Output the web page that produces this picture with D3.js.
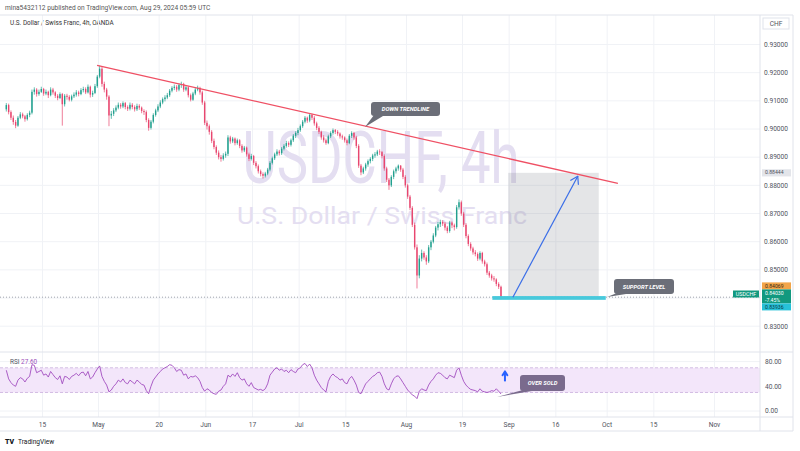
<!DOCTYPE html>
<html>
<head>
<meta charset="utf-8">
<script src="https://cdn.jsdelivr.net/npm/d3@7"></script>
<style>
  body { margin: 0; background: #fff; }
  svg text { font-family: Roboto, "Noto Sans", sans-serif; }
</style>
</head>
<body>
<div id="chart"></div>
<script>
// ---------- data ----------
const firstDate = "2024-04-03";
const candlesPerDay = 2;
const firstOpen = 0.9070;

const closes = [
  0.9085,0.9060,0.9040,0.9025,0.9012,0.9040,0.9052,0.9045,0.9035,0.9050,0.9058,0.9132,
  0.9140,0.9124,0.9132,0.9142,0.9126,0.9132,0.9120,0.9140,0.9130,0.9118,0.9110,0.9124,
  0.9088,0.9118,0.9114,0.9104,0.9116,0.9122,0.9130,0.9124,0.9138,0.9142,0.9130,0.9150,
  0.9122,0.9128,0.9152,0.9186,0.9214,0.9160,0.9140,0.9115,0.9048,0.9054,0.9066,0.9076,
  0.9086,0.9080,0.9092,0.9078,0.9072,0.9086,0.9078,0.9070,0.9082,0.9076,0.9064,0.9060,
  0.9032,0.9004,0.9026,0.9050,0.9066,0.9080,0.9094,0.9106,0.9112,0.9120,0.9136,0.9146,
  0.9150,0.9140,0.9156,0.9160,0.9140,0.9148,0.9120,0.9104,0.9126,0.9140,0.9146,0.9130,
  0.9094,0.9022,0.9010,0.8990,0.8958,0.8936,0.8916,0.8900,0.8894,0.8906,0.8912,0.8970,
  0.8956,0.8966,0.8950,0.8960,0.8940,0.8924,0.8934,0.8910,0.8894,0.8904,0.8880,0.8868,
  0.8850,0.8840,0.8834,0.8842,0.8856,0.8880,0.8896,0.8910,0.8920,0.8914,0.8930,0.8940,
  0.8950,0.8944,0.8960,0.8976,0.8986,0.8996,0.9010,0.9026,0.9040,0.9030,0.9050,0.9040,
  0.9020,0.9004,0.8990,0.8970,0.8960,0.8950,0.8974,0.8986,0.8996,0.8990,0.8984,0.8974,
  0.8970,0.8960,0.8950,0.8976,0.8986,0.8970,0.8940,0.8870,0.8846,0.8860,0.8874,0.8886,
  0.8894,0.8906,0.8910,0.8920,0.8918,0.8904,0.8860,0.8820,0.8800,0.8830,0.8850,0.8860,
  0.8870,0.8856,0.8830,0.8800,0.8760,0.8720,0.8660,0.8580,0.8480,0.8540,0.8560,0.8544,
  0.8530,0.8580,0.8600,0.8622,0.8650,0.8662,0.8670,0.8664,0.8650,0.8638,0.8668,0.8658,
  0.8652,0.8722,0.8740,0.8700,0.8660,0.8620,0.8592,0.8576,0.8562,0.8556,0.8540,0.8560,
  0.8530,0.8520,0.8490,0.8480,0.8470,0.8466,0.8450,0.8440,0.8403
];

const highs = [
  0.9092,0.9090,0.9066,0.9048,0.9032,0.9046,0.9060,0.9058,0.9050,0.9056,0.9065,0.9140,
  0.9148,0.9145,0.9140,0.9150,0.9146,0.9140,0.9136,0.9148,0.9146,0.9134,0.9124,0.9130,
  0.9128,0.9124,0.9125,0.9120,0.9122,0.9130,0.9138,0.9136,0.9145,0.9150,0.9148,0.9158,
  0.9154,0.9136,0.9160,0.9192,0.9225,0.9220,0.9168,0.9146,0.9120,0.9064,0.9074,0.9084,
  0.9094,0.9092,0.9098,0.9096,0.9084,0.9094,0.9092,0.9084,0.9090,0.9088,0.9080,0.9070,
  0.9066,0.9038,0.9032,0.9056,0.9072,0.9088,0.9102,0.9112,0.9120,0.9128,0.9142,0.9152,
  0.9158,0.9156,0.9162,0.9168,0.9164,0.9154,0.9152,0.9126,0.9132,0.9148,0.9154,0.9150,
  0.9136,0.9100,0.9030,0.9016,0.8996,0.8966,0.8942,0.8924,0.8908,0.8914,0.8920,0.8978,
  0.8976,0.8972,0.8970,0.8966,0.8964,0.8946,0.8940,0.8938,0.8916,0.8912,0.8908,0.8886,
  0.8874,0.8856,0.8846,0.8848,0.8862,0.8886,0.8902,0.8916,0.8928,0.8926,0.8936,0.8946,
  0.8958,0.8956,0.8966,0.8982,0.8992,0.9004,0.9016,0.9032,0.9046,0.9044,0.9056,0.9054,
  0.9046,0.9026,0.9010,0.8994,0.8978,0.8966,0.8980,0.8992,0.9002,0.9000,0.8996,0.8988,
  0.8980,0.8974,0.8966,0.8982,0.8992,0.8990,0.8976,0.8946,0.8876,0.8866,0.8880,0.8892,
  0.8900,0.8912,0.8918,0.8926,0.8928,0.8922,0.8910,0.8866,0.8826,0.8836,0.8856,0.8866,
  0.8874,0.8872,0.8862,0.8836,0.8806,0.8766,0.8726,0.8668,0.8590,0.8552,0.8572,0.8566,
  0.8552,0.8588,0.8606,0.8630,0.8656,0.8670,0.8678,0.8676,0.8670,0.8656,0.8674,0.8672,
  0.8664,0.8730,0.8750,0.8746,0.8706,0.8666,0.8626,0.8598,0.8582,0.8570,0.8562,0.8566,
  0.8564,0.8536,0.8526,0.8496,0.8486,0.8478,0.8470,0.8456,0.8444
];

const lows = [
  0.9062,0.9052,0.9032,0.9015,0.9003,0.9008,0.9035,0.9038,0.9026,0.9030,0.9042,0.9052,
  0.9122,0.9115,0.9118,0.9128,0.9118,0.9120,0.9110,0.9116,0.9122,0.9110,0.9102,0.9106,
  0.9012,0.9080,0.9104,0.9098,0.9098,0.9110,0.9115,0.9116,0.9120,0.9130,0.9124,0.9126,
  0.9112,0.9114,0.9124,0.9146,0.9180,0.9150,0.9130,0.9104,0.9010,0.9036,0.9046,0.9060,
  0.9070,0.9072,0.9074,0.9070,0.9064,0.9066,0.9070,0.9062,0.9064,0.9068,0.9056,0.9050,
  0.9024,0.8994,0.8998,0.9020,0.9044,0.9060,0.9074,0.9088,0.9098,0.9106,0.9114,0.9130,
  0.9138,0.9132,0.9134,0.9146,0.9132,0.9134,0.9112,0.9098,0.9100,0.9120,0.9134,0.9122,
  0.9086,0.9014,0.8998,0.8980,0.8950,0.8928,0.8908,0.8892,0.8884,0.8888,0.8898,0.8904,
  0.8948,0.8950,0.8942,0.8944,0.8932,0.8916,0.8918,0.8902,0.8886,0.8888,0.8872,0.8860,
  0.8842,0.8832,0.8824,0.8828,0.8836,0.8850,0.8874,0.8890,0.8904,0.8906,0.8908,0.8924,
  0.8934,0.8936,0.8938,0.8954,0.8968,0.8978,0.8990,0.9004,0.9020,0.9022,0.9024,0.9032,
  0.9012,0.8996,0.8982,0.8962,0.8952,0.8944,0.8946,0.8968,0.8980,0.8982,0.8976,0.8966,
  0.8962,0.8952,0.8942,0.8946,0.8968,0.8962,0.8932,0.8862,0.8836,0.8840,0.8852,0.8866,
  0.8878,0.8886,0.8898,0.8904,0.8908,0.8896,0.8852,0.8812,0.8784,0.8794,0.8822,0.8842,
  0.8852,0.8848,0.8822,0.8792,0.8752,0.8712,0.8652,0.8572,0.8434,0.8470,0.8530,0.8536,
  0.8518,0.8524,0.8570,0.8594,0.8616,0.8640,0.8652,0.8656,0.8640,0.8630,0.8632,0.8648,
  0.8640,0.8646,0.8714,0.8692,0.8652,0.8612,0.8584,0.8568,0.8554,0.8548,0.8532,0.8534,
  0.8522,0.8512,0.8482,0.8472,0.8462,0.8458,0.8442,0.8432,0.8396
];

const rsiValues = [
  66,52,46,42,40,50,54,52,47,53,56,75,
  74,62,64,66,58,60,55,64,59,54,51,57,
  44,56,55,51,56,58,61,57,62,63,57,64,
  52,55,62,68,73,56,48,42,31,34,40,44,
  50,47,52,46,44,50,47,44,50,47,43,42,
  33,28,40,50,55,60,64,68,70,72,75,74,
  70,64,67,66,58,60,52,56,55,57,54,48,
  38,32,36,34,30,28,27,32,34,40,44,58,
  55,60,56,62,54,50,52,44,40,46,38,36,
  34,35,33,36,44,58,63,68,70,66,68,64,
  66,62,67,64,62,68,70,75,77,72,76,70,
  58,50,44,38,34,31,48,56,60,56,54,50,
  52,46,44,52,56,50,42,30,28,36,44,48,
  52,56,58,62,63,56,44,36,34,44,52,56,
  57,52,46,40,34,30,26,24,20,32,36,34,
  33,42,48,52,58,62,61,58,54,52,58,56,
  54,66,70,58,48,42,38,35,34,33,31,36,
  32,31,30,31,33,32,36,32,27.6
];

const priceTicks = [0.93, 0.92, 0.91, 0.90, 0.89, 0.88, 0.87, 0.86, 0.85, 0.84, 0.83];
const rsiTicks = [80, 40, 0];
const timeTickDates = ["2024-04-15","2024-05-01","2024-05-20","2024-06-03","2024-06-17","2024-07-01",
  "2024-07-15","2024-08-01","2024-08-19","2024-09-02","2024-09-16","2024-10-01","2024-10-15","2024-11-01"];
const timeTickLabels = ["15","May","20","Jun","17","Jul","15","Aug","19","Sep","16","Oct","15","Nov"];

const lastPrice = 0.84030;
const changePct = "-7.45%";
const rsiLast = "27.60";

// drawings: [business-day offset from Apr 15, price]
const trendLine = [[11.7, 0.9226], [123.3, 0.8807]];
const targetBox = {x0: 99.8, x1: 119.2, top: 0.88444, bottom: 0.84030};
const supportBox = {x0: 96.4, x1: 120.7, top: 0.84069, bottom: 0.83936};
const targetArrow = [[100.8, 0.8403], [114.7, 0.8832]];

// ---------- layout ----------
const width = 800, height = 451;
const paneRight = 760, outerRight = 793;
const priceTop = 15, priceBottom = 352, rsiTop = 353, rsiBottom = 417, axisBottom = 431;
const gridColor = "#f0f2f6", borderColor = "#e0e3eb", textColor = "#50535e";
const upColor = "#22a08f", downColor = "#e8466f";

const svg = d3.select("#chart").append("svg")
  .attr("width", width).attr("height", height)
  .attr("viewBox", `0 0 ${width} ${height}`);
svg.append("rect").attr("width", width).attr("height", height).attr("fill", "#fff");

// business-day offset from 2024-04-15
const baseDate = new Date("2024-04-15T00:00:00Z");
function bday(str) {
  const t = new Date(str + "T00:00:00Z");
  const d = new Date(baseDate);
  let n = 0;
  if (t >= baseDate) {
    while (d < t) { const w = d.getUTCDay(); if (w !== 0 && w !== 6) n++; d.setUTCDate(d.getUTCDate() + 1); }
  } else {
    while (d > t) { d.setUTCDate(d.getUTCDate() - 1); const w = d.getUTCDay(); if (w !== 0 && w !== 6) n--; }
  }
  return n;
}

// scales
const xScale = d3.scaleLinear().domain([-9.1, 153.75]).range([0, paneRight]);
const yScale = d3.scaleLinear().domain([0.83, 0.93]).range([326.2, 44.5]);
const yRsi = d3.scaleLinear().domain([0, 80]).range([411, 361.6]);

const startDay = bday(firstDate);
const candles = closes.map((c, i) => ({
  t: startDay + i / candlesPerDay + 0.5 / candlesPerDay,
  o: i === 0 ? firstOpen : closes[i - 1],
  h: highs[i], l: lows[i], c,
  r: rsiValues[i]
}));

// ---------- header ----------
svg.append("text").attr("x", 5).attr("y", 9.5)
  .attr("font-size", 6.6).attr("fill", "#555")
  .text("mina5432112 published on TradingView.com, Aug 29, 2024 05:59 UTC");
svg.append("text").attr("x", 10).attr("y", 24.5)
  .attr("font-size", 6.4).attr("fill", "#333")
  .text("U.S. Dollar / Swiss Franc, 4h, OANDA");

// ---------- grid ----------
const grid = svg.append("g");
timeTickDates.forEach(d => {
  const x = xScale(bday(d));
  grid.append("line").attr("x1", x).attr("x2", x).attr("y1", priceTop).attr("y2", rsiBottom)
    .attr("stroke", gridColor);
});
priceTicks.forEach(p => {
  grid.append("line").attr("x1", 0).attr("x2", paneRight).attr("y1", yScale(p)).attr("y2", yScale(p))
    .attr("stroke", gridColor);
});
rsiTicks.forEach(v => {
  grid.append("line").attr("x1", 0).attr("x2", paneRight).attr("y1", yRsi(v)).attr("y2", yRsi(v))
    .attr("stroke", gridColor);
});

// ---------- watermark ----------
svg.append("text").attr("x", 381).attr("y", 183).attr("text-anchor", "middle")
  .attr("font-size", 72).attr("fill", "#e4def1")
  .attr("textLength", 277).attr("lengthAdjust", "spacingAndGlyphs")
  .text("USDCHF, 4h");
svg.append("text").attr("x", 382).attr("y", 224).attr("text-anchor", "middle")
  .attr("font-size", 24).attr("fill", "#e4def1")
  .attr("textLength", 290).attr("lengthAdjust", "spacingAndGlyphs")
  .text("U.S. Dollar / Swiss Franc");

// ---------- price pane ----------
svg.append("clipPath").attr("id", "priceClip").append("rect")
  .attr("x", 0).attr("y", priceTop).attr("width", paneRight).attr("height", priceBottom - priceTop);
const price = svg.append("g").attr("clip-path", "url(#priceClip)");

// target box (grey)
price.append("rect")
  .attr("x", xScale(targetBox.x0)).attr("width", xScale(targetBox.x1) - xScale(targetBox.x0))
  .attr("y", yScale(targetBox.top)).attr("height", yScale(targetBox.bottom) - yScale(targetBox.top))
  .attr("fill", "#787b86").attr("fill-opacity", 0.2);

// price line
price.append("line").attr("x1", 0).attr("x2", paneRight)
  .attr("y1", yScale(lastPrice)).attr("y2", yScale(lastPrice))
  .attr("stroke", "#9fa3ad").attr("stroke-dasharray", "1,2");

// candles
const bodyW = (xScale(1) - xScale(0)) / candlesPerDay * 0.6;
price.selectAll(".wick").data(candles).join("line")
  .attr("x1", d => xScale(d.t)).attr("x2", d => xScale(d.t))
  .attr("y1", d => yScale(d.h)).attr("y2", d => yScale(d.l))
  .attr("stroke", d => d.c >= d.o ? upColor : downColor).attr("stroke-width", 0.7);
price.selectAll(".body").data(candles).join("rect")
  .attr("x", d => xScale(d.t) - bodyW / 2).attr("width", bodyW)
  .attr("y", d => yScale(Math.max(d.o, d.c)))
  .attr("height", d => Math.max(0.7, Math.abs(yScale(d.o) - yScale(d.c))))
  .attr("fill", d => d.c >= d.o ? upColor : downColor);

// support box (cyan)
price.append("rect")
  .attr("x", xScale(supportBox.x0)).attr("width", xScale(supportBox.x1) - xScale(supportBox.x0))
  .attr("y", yScale(supportBox.top)).attr("height", yScale(supportBox.bottom) - yScale(supportBox.top))
  .attr("fill", "#47c9dc");

// trend line
price.append("line")
  .attr("x1", xScale(trendLine[0][0])).attr("y1", yScale(trendLine[0][1]))
  .attr("x2", xScale(trendLine[1][0])).attr("y2", yScale(trendLine[1][1]))
  .attr("stroke", "#ef5064").attr("stroke-width", 1.3);

// target arrow
function arrow(g, x1, y1, x2, y2, color, w, head) {
  g.append("line").attr("x1", x1).attr("y1", y1).attr("x2", x2).attr("y2", y2)
    .attr("stroke", color).attr("stroke-width", w);
  const a = Math.atan2(y2 - y1, x2 - x1);
  [Math.PI * 0.82, -Math.PI * 0.82].forEach(da => {
    g.append("line").attr("x1", x2).attr("y1", y2)
      .attr("x2", x2 + head * Math.cos(a + da)).attr("y2", y2 + head * Math.sin(a + da))
      .attr("stroke", color).attr("stroke-width", w).attr("stroke-linecap", "round");
  });
}
arrow(price, xScale(targetArrow[0][0]), yScale(targetArrow[0][1]),
  xScale(targetArrow[1][0]), yScale(targetArrow[1][1]), "#3a6ee8", 1.2, 8);

// callouts
function callout(g, x, y, w, h, tipX, tipY, fill, label) {
  g.append("path")
    .attr("d", `M${x + 3},${y + h - 1} L${tipX},${tipY} L${x + 12},${y + h} Z`)
    .attr("fill", fill);
  g.append("rect").attr("x", x).attr("y", y).attr("width", w).attr("height", h)
    .attr("rx", 3).attr("fill", fill);
  g.append("text").attr("x", x + w / 2).attr("y", y + h / 2 + 2)
    .attr("text-anchor", "middle").attr("font-size", 5.8).attr("font-weight", 700)
    .attr("font-style", "italic").attr("fill", "#fff").text(label);
}
callout(svg, 371, 102, 69, 14, 365, 127, "#6b6e78", "DOWN TRENDLINE");
callout(svg, 614, 279, 60, 15, 607, 297, "#6b6e78", "SUPPORT LEVEL");

// ---------- RSI pane ----------
const rsiG = svg.append("g");
rsiG.append("rect").attr("x", 0).attr("width", paneRight)
  .attr("y", yRsi(70)).attr("height", yRsi(30) - yRsi(70))
  .attr("fill", "#f3e6fa");
[70, 30].forEach(v => {
  rsiG.append("line").attr("x1", 0).attr("x2", paneRight).attr("y1", yRsi(v)).attr("y2", yRsi(v))
    .attr("stroke", "#c3a6d8").attr("stroke-dasharray", "3,2").attr("stroke-width", 0.7);
});
const rsiLine = d3.line().x(d => xScale(d.t)).y(d => yRsi(d.r));
rsiG.append("path").attr("d", rsiLine(candles))
  .attr("fill", "none").attr("stroke", "#a24dc0").attr("stroke-width", 0.9);

const rsiLabel = svg.append("text").attr("x", 10).attr("y", 363.5).attr("font-size", 6.4);
rsiLabel.append("tspan").attr("fill", "#50535e").text("RSI ");
rsiLabel.append("tspan").attr("fill", "#9c4fba").text(" " + rsiLast);

// blue up arrow
arrow(svg, xScale(99.1), yRsi(48), xScale(99.1), yRsi(64), "#2962ff", 2, 4.5);
callout(svg, 520, 375, 45, 16, 497, 397, "#7a6b8d", "OVER SOLD");

// ---------- borders ----------
const borders = svg.append("g").attr("stroke", borderColor).attr("fill", "none");
borders.append("line").attr("x1", 0).attr("x2", outerRight).attr("y1", priceTop).attr("y2", priceTop);
borders.append("line").attr("x1", 0).attr("x2", outerRight).attr("y1", priceBottom).attr("y2", priceBottom);
borders.append("line").attr("x1", 0).attr("x2", outerRight).attr("y1", rsiBottom).attr("y2", rsiBottom);
borders.append("line").attr("x1", 0).attr("x2", outerRight).attr("y1", axisBottom).attr("y2", axisBottom);
borders.append("line").attr("x1", paneRight).attr("x2", paneRight).attr("y1", priceTop).attr("y2", axisBottom);
borders.append("line").attr("x1", outerRight).attr("x2", outerRight).attr("y1", priceTop).attr("y2", axisBottom);

// ---------- price axis ----------
const labelStack = [282.4, 310.4];   // area covered by the stacked price labels
const axisG = svg.append("g").attr("font-size", 6.6).attr("fill", textColor);
axisG.append("rect").attr("x", 763).attr("y", 18).attr("width", 26).attr("height", 11)
  .attr("fill", "#fff").attr("stroke", borderColor);
axisG.append("text").attr("x", 776).attr("y", 26).attr("text-anchor", "middle").text("CHF");
priceTicks
  .filter(p => yScale(p) < labelStack[0] - 3 || yScale(p) > labelStack[1] + 3)
  .forEach(p => {
    axisG.append("text").attr("x", 764).attr("y", yScale(p) + 2.3).text(d3.format(".5f")(p));
  });
rsiTicks.forEach(v => {
  axisG.append("text").attr("x", 765).attr("y", yRsi(v) + 2.3).text(d3.format(".2f")(v));
});

// price labels stacked on the axis
function axisBox(y, h, fill, color, lines) {
  axisG.append("rect").attr("x", 762).attr("y", y).attr("width", 29).attr("height", h).attr("fill", fill);
  lines.forEach((t, k) => {
    axisG.append("text").attr("x", 765).attr("y", y + 5.2 + k * 7)
      .attr("font-size", 5.1).attr("fill", color).text(t);
  });
}
axisBox(yScale(targetBox.top) - 3.6, 7.2, "#e3e5ea", "#50535e", [d3.format(".5f")(targetBox.top)]);
axisBox(282.4, 7, "#f2a54a", "#3a2a10", [d3.format(".5f")(supportBox.top)]);
axisBox(289.4, 14, "#12997f", "#fff", [d3.format(".5f")(lastPrice), changePct]);
axisBox(303.4, 7, "#27c1d8", "#0b3b44", [d3.format(".5f")(supportBox.bottom)]);

// symbol label
svg.append("rect").attr("x", 733).attr("y", 290.5).attr("width", 26).attr("height", 7).attr("fill", "#12997f");
svg.append("text").attr("x", 746).attr("y", 296).attr("text-anchor", "middle")
  .attr("font-size", 5.4).attr("fill", "#fff").text("USDCHF");

// ---------- time axis ----------
const timeG = svg.append("g").attr("font-size", 6.6).attr("fill", textColor);
timeTickDates.forEach((d, k) => {
  timeG.append("text").attr("x", xScale(bday(d))).attr("y", 427)
    .attr("text-anchor", "middle").text(timeTickLabels[k]);
});

// ---------- footer ----------
svg.append("text").attr("x", 5).attr("y", 444).attr("font-size", 7).attr("font-weight", 900)
  .attr("fill", "#131722").text("TV");
svg.append("text").attr("x", 18).attr("y", 444).attr("font-size", 6.6)
  .attr("fill", "#131722").text("TradingView");
</script>
</body>
</html>
